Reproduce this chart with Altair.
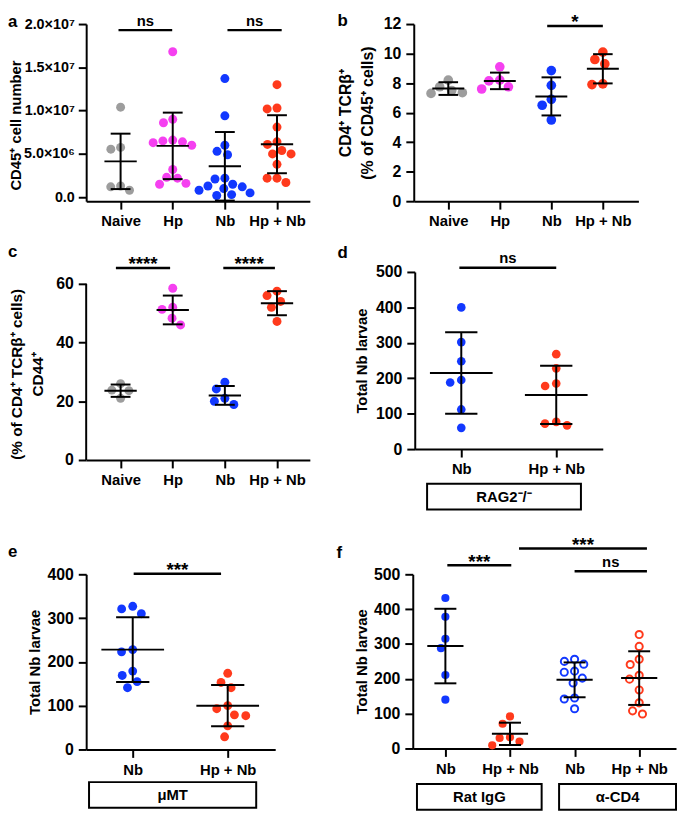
import json
import altair as alt
import pandas as pd

FONT = "Liberation Sans"
GRAY, PINK, BLUE, RED = "#9d9d9d", "#f540f0", "#1238ff", "#ff3a1c"

# ---------------- values ----------------
# panel a (CD45+ cell number, in units of 10^6)
A_CATS = ["Naive", "Hp", "Nb", "Hp + Nb"]
A_NAIVE = [10.4, 5.75, 5.55, 1.3, 1.2, 0.8]
A_HP = [16.8, 9.0, 8.6, 6.6, 6.5, 6.4, 6.3, 6.0, 3.2, 2.3, 2.2, 1.6, 1.5]
A_NB = [13.7, 9.4, 6.0, 5.3, 4.9, 2.2, 2.1, 1.5, 1.3, 1.2, 1.0, 0.8, 0.5, 0.3, 0.2]
A_HPNB = [13.0, 10.3, 10.2, 8.1, 6.4, 6.1, 5.4, 5.0, 5.0, 3.8, 2.2, 2.2, 1.7]
A_MEAN = [4.14, 5.93, 3.57, 6.12]
A_SD = [3.2, 3.84, 3.96, 3.35]
A_YTICKS = [0, 5, 10, 15, 20]
A_YLABELS = ["0.0", "5.0×10⁶", "1.0×10⁷", "1.5×10⁷", "2.0×10⁷"]
A_SIG = ["ns", "ns"]
A_SIG_FROM = [-0.04, 2.05]
A_SIG_TO = [0.99, 3.09]
A_SIG_Y = [19.3, 19.3]

# panel b
B_NAIVE = [8.2, 7.75, 7.5, 7.35, 7.3]
B_HP = [9.1, 8.2, 8.15, 7.75, 7.6]
B_NB = [8.85, 7.85, 6.9, 6.5, 5.5]
B_HPNB = [10.1, 9.6, 9.3, 7.95, 7.9]
B_MEAN = [7.63, 8.15, 7.1, 8.97]
B_SD = [0.43, 0.56, 1.29, 0.99]
B_YTICKS = [0, 2, 4, 6, 8, 10, 12]
B_SIG = ["*"]
B_SIG_FROM = [1.92]
B_SIG_TO = [3.0]
B_SIG_Y = [11.87]

# panel c
C_NAIVE = [26.0, 23.8, 23.6, 21.0]
C_HP = [58.5, 52.0, 51.3, 48.3, 46.0]
C_NB = [26.5, 24.2, 21.0, 20.0, 18.9]
C_HPNB = [57.5, 56.0, 54.0, 52.0, 47.2]
C_MEAN = [23.6, 51.1, 22.0, 53.4]
C_SD = [2.1, 4.9, 3.2, 4.1]
C_YTICKS = [0, 20, 40, 60]
C_SIG = ["****", "****"]
C_SIG_FROM = [-0.09, 1.97]
C_SIG_TO = [0.95, 2.96]
C_SIG_Y = [65.4, 65.4]

# panel d
D_CATS = ["Nb", "Hp + Nb"]
D_NB = [400, 302, 248, 195, 188, 112, 60]
D_HPNB = [268, 228, 185, 178, 77, 72, 67]
D_MEAN = [215, 153]
D_SD = [115, 82]
D_SIG = ["ns"]
D_SIG_FROM = [-0.02]
D_SIG_TO = [1.0]
D_SIG_Y = [512]
D_BOX = ["RAG2⁻/⁻"]
D_BOX_FROM = [-0.36]
D_BOX_TO = [1.26]

# panel e
E_NB = [327, 321, 310, 228, 223, 179, 169, 155, 141]
E_HPNB = [174, 153, 141, 100, 93, 79, 77, 54, 29]
E_MEAN = [228, 100]
E_SD = [74, 47]
E_SIG = ["***"]
E_SIG_FROM = [0.01]
E_SIG_TO = [0.93]
E_SIG_Y = [401.5]
E_BOX = ["μMT"]
E_BOX_FROM = [-0.46]
E_BOX_TO = [1.30]

# panel f
F_CATS = ["Nb", "Hp + Nb", "Nb", "Hp + Nb"]
F_IGG_NB = [432, 378, 315, 288, 211, 140]
F_IGG_HPNB = [92, 71, 32, 30, 20, 9]
F_CD4_NB = [256, 250, 242, 222, 219, 202, 188, 145, 142, 114]
F_CD4_HPNB = [327, 293, 256, 241, 210, 199, 168, 131, 108, 99]
F_MEAN = [294, 42, 197, 202]
F_SD = [107, 32, 50, 77]
F_SIG = ["***", "***", "ns"]
F_SIG_FROM = [0.03, 1.14, 2.0]
F_SIG_TO = [1.02, 3.12, 3.12]
F_SIG_Y = [526, 574, 509]
F_BOX = ["Rat IgG", "α-CD4"]
F_BOX_FROM = [-0.44, 1.76]
F_BOX_TO = [1.49, 3.57]


def swarm(values, px_per_y, diam):
    """Deterministic beeswarm: horizontal pixel offsets so dots don't overlap."""
    order = sorted(range(len(values)), key=lambda i: -values[i])
    placed, offs = [], [0.0] * len(values)
    for i in order:
        y = values[i] * px_per_y
        forb = []
        for yj, xj in placed:
            dy = abs(y - yj)
            if dy < diam:
                h = (diam * diam - dy * dy) ** 0.5
                forb.append((xj - h, xj + h))
        cands = sorted({0.0, *[e for iv in forb for e in iv]},
                       key=lambda c: (round(abs(c), 6), c))
        for c in cands:
            if all(not (lo + 1e-6 < c < hi - 1e-6) for lo, hi in forb):
                offs[i] = c
                break
        placed.append((y, offs[i]))
    return offs


def panel(p):
    W, H = p["width"], p["height"]
    x0, x1 = p["xdomain"]
    y0, y1 = p["ydomain"]
    pxx, pxy = W / (x1 - x0), H / (y1 - y0)
    sx = alt.Scale(domain=[x0, x1], nice=False, zero=False)
    sy = alt.Scale(domain=[y0, y1], nice=False, zero=False)

    rows = []
    for gi, (vals, col, fil) in enumerate(zip(p["series"], p["colors"], p["filled"])):
        offs = swarm(vals, pxy, p["collide"])
        for v, o in zip(vals, offs):
            rows.append({"x": gi + o / pxx, "y": v, "c": col, "f": fil})
    pts = pd.DataFrame(rows)

    cats = p["cats"]
    xaxis = alt.Axis(values=list(range(len(cats))),
                     labelExpr=json.dumps(cats, ensure_ascii=False) + "[datum.value]",
                     title=None, grid=False, domainWidth=2, domainColor="black",
                     tickWidth=2, tickSize=8, tickColor="black", labelFontSize=15,
                     labelFontWeight="bold", labelColor="black", labelPadding=5,
                     labelFlush=False, labelOverlap=False, labelBound=False, labelFont=FONT)
    yargs = dict(values=p["yticks"], title=p["ytitle"], grid=False,
                 domain=p.get("ydomline") is None, domainWidth=2, domainColor="black",
                 tickWidth=2, tickSize=8, tickColor="black", labelFontSize=p.get("ylsize", 16),
                 labelFontWeight="bold", labelColor="black", labelPadding=p.get("ylpad", 5),
                 labelFont=FONT, labelOverlap=False, labelFlush=False,
                 titleX=p["ytx"], titleY=p["yty"], titleAngle=270, titleBaseline="top",
                 titleAlign="center", titleFontSize=p["ytsize"], titleFontWeight="bold",
                 titleColor="black", titleFont=FONT, titleLineHeight=p.get("ytlh", 20))
    if p.get("ylabels"):
        yargs["labelExpr"] = (json.dumps(p["ylabels"], ensure_ascii=False)
                              + "[indexof(" + json.dumps(p["yticks"]) + ", datum.value)]")
    yaxis = alt.Axis(**yargs)

    def X(f):
        return alt.X(f, scale=sx, axis=xaxis)

    def Y(f):
        return alt.Y(f, scale=sy, axis=yaxis)

    layers = []
    filled = pts[pts.f]
    layers.append(alt.Chart(filled).mark_circle(size=p["size"], opacity=1).encode(
        x=X("x:Q"), y=Y("y:Q"), color=alt.Color("c:N", scale=None)))
    opened = pts[~pts.f]
    if len(opened):
        layers.append(alt.Chart(opened).mark_point(shape="circle", filled=False, strokeWidth=2,
                                                    size=p["osize"], opacity=1).encode(
            x=X("x:Q"), y=Y("y:Q"), color=alt.Color("c:N", scale=None)))

    if p.get("ydomline") is not None:
        dl = pd.DataFrame({"x": [x0], "y": [p["ydomline"][0]], "yb": [p["ydomline"][1]]})
        layers.append(alt.Chart(dl).mark_rule(strokeWidth=2, color="black").encode(
            x=X("x:Q"), y=Y("y:Q"), y2="yb:Q"))

    # mean +/- SD
    n = len(p["means"])
    vr = pd.DataFrame({"x": list(range(n)),
                       "y": [m - s for m, s in zip(p["means"], p["sds"])],
                       "hi": [m + s for m, s in zip(p["means"], p["sds"])]})
    hr_rows = []
    for i, (m, s) in enumerate(zip(p["means"], p["sds"])):
        hr_rows.append({"x": i - p["mhw"], "x2": i + p["mhw"], "y": m})
        hr_rows.append({"x": i - p["chw"], "x2": i + p["chw"], "y": m - s})
        hr_rows.append({"x": i - p["chw"], "x2": i + p["chw"], "y": m + s})
    hr = pd.DataFrame(hr_rows)
    layers.append(alt.Chart(vr).mark_rule(strokeWidth=2, color="black").encode(
        x=X("x:Q"), y=Y("y:Q"), y2="hi:Q"))
    layers.append(alt.Chart(hr).mark_rule(strokeWidth=2, color="black").encode(
        x=X("x:Q"), x2="x2:Q", y=Y("y:Q")))

    # significance brackets
    sg = pd.DataFrame({"lab": p["sig"], "a": p["sig_from"], "b": p["sig_to"], "y": p["sig_y"]})
    sg["x"] = sg.a
    sg["m"] = (sg.a + sg.b) / 2
    layers.append(alt.Chart(sg).mark_rule(strokeWidth=2.5, color="black").encode(
        x=X("x:Q"), x2="b:Q", y=Y("y:Q")))
    sg2 = sg.copy()
    sg2["x"] = sg2.m
    stars = sg2[sg2.lab.str.startswith("*")]
    words = sg2[~sg2.lab.str.startswith("*")]
    if len(stars):
        layers.append(alt.Chart(stars).mark_text(fontSize=19, fontWeight="bold", font=FONT,
                                                 baseline="alphabetic", dy=2.5, color="black").encode(
            x=X("x:Q"), y=Y("y:Q"), text="lab:N"))
    if len(words):
        layers.append(alt.Chart(words).mark_text(fontSize=15, fontWeight="bold", font=FONT,
                                                 baseline="alphabetic", dy=-4.5, color="black").encode(
            x=X("x:Q"), y=Y("y:Q"), text="lab:N"))

    # strain / treatment boxes under the axis
    if p.get("box"):
        bx = pd.DataFrame({"lab": p["box"], "x": p["box_from"], "b": p["box_to"]})
        bx["m"] = (bx.x + bx.b) / 2
        t0 = p["box_top"]
        layers.append(alt.Chart(bx).mark_rect(fill="white", stroke="black", strokeWidth=2).encode(
            x=X("x:Q"), x2="b:Q", y=alt.value(H + t0), y2=alt.value(H + t0 + 26)))
        bt = bx.copy()
        bt["x"] = bt.m
        layers.append(alt.Chart(bt).mark_text(fontSize=15, fontWeight="bold", font=FONT,
                                              baseline="middle", color="black").encode(
            x=X("x:Q"), y=alt.value(H + t0 + 13.5), text="lab:N"))

    title = alt.TitleParams(text=p["letter"], anchor="start", frame="group", offset=0,
                            dx=p["tdx"], dy=p["tdy"], fontSize=17, fontWeight="bold",
                            font=FONT, color="black", baseline="alphabetic")
    return alt.layer(*layers).properties(width=W, height=H, title=title)


pa = panel(dict(letter="a", tdx=-79, tdy=30, cats=A_CATS,
                series=[A_NAIVE, A_HP, A_NB, A_HPNB], colors=[GRAY, PINK, BLUE, RED],
                filled=[True] * 4, means=A_MEAN, sds=A_SD, width=226, height=179,
                xdomain=[-0.66, 3.63], ydomain=[-0.46, 20], yticks=A_YTICKS, ylabels=A_YLABELS,
                ylsize=14.5, ylpad=4, ytitle="CD45⁺ cell number", ytx=-78.5, yty=102, ytsize=15,
                sig=A_SIG, sig_from=A_SIG_FROM, sig_to=A_SIG_TO, sig_y=A_SIG_Y,
                size=82, collide=10, mhw=0.31, chw=0.19))
pb = panel(dict(letter="b", tdx=-77, tdy=30, cats=A_CATS,
                series=[B_NAIVE, B_HP, B_NB, B_HPNB], colors=[GRAY, PINK, BLUE, RED],
                filled=[True] * 4, means=B_MEAN, sds=B_SD, width=227, height=179,
                xdomain=[-0.67, 3.69], ydomain=[0, 12], yticks=B_YTICKS,
                ytitle=["CD4⁺ TCRβ⁺", "(% of CD45⁺ cells)"], ytx=-77, yty=89.5, ytsize=16,
                ytlh=22, sig=B_SIG, sig_from=B_SIG_FROM, sig_to=B_SIG_TO, sig_y=B_SIG_Y,
                size=95, collide=11, mhw=0.31, chw=0.19))
pc = panel(dict(letter="c", tdx=-79, tdy=18, cats=A_CATS,
                series=[C_NAIVE, C_HP, C_NB, C_HPNB], colors=[GRAY, PINK, BLUE, RED],
                filled=[True] * 4, means=C_MEAN, sds=C_SD, width=226, height=190,
                xdomain=[-0.66, 3.63], ydomain=[0, 64.04], yticks=C_YTICKS, ydomline=[0, 60],
                ytitle=["(% of CD4⁺ TCRβ⁺ cells)", "CD44⁺"], ytx=-77, yty=103, ytsize=15.5,
                ytlh=21, sig=C_SIG, sig_from=C_SIG_FROM, sig_to=C_SIG_TO, sig_y=C_SIG_Y,
                size=82, collide=11, mhw=0.31, chw=0.19))
pd_ = panel(dict(letter="d", tdx=-78, tdy=24, cats=D_CATS,
                 series=[D_NB, D_HPNB], colors=[BLUE, RED], filled=[True] * 2,
                 means=D_MEAN, sds=D_SD, width=190, height=179,
                 xdomain=[-0.49, 1.49], ydomain=[0, 500], yticks=[0, 100, 200, 300, 400, 500],
                 ytitle="Total Nb larvae", ytx=-61, yty=89.5, ytsize=15,
                 sig=D_SIG, sig_from=D_SIG_FROM, sig_to=D_SIG_TO, sig_y=D_SIG_Y,
                 box=D_BOX, box_from=D_BOX_FROM, box_to=D_BOX_TO, box_top=35,
                 size=76, collide=11.5, mhw=0.33, chw=0.17))
pe = panel(dict(letter="e", tdx=-79, tdy=12.5, cats=D_CATS,
                series=[E_NB, E_HPNB], colors=[BLUE, RED], filled=[True] * 2,
                means=E_MEAN, sds=E_SD, width=191, height=177,
                xdomain=[-0.49, 1.5], ydomain=[0, 400], yticks=[0, 100, 200, 300, 400],
                ytitle="Total Nb larvae", ytx=-59, yty=88.5, ytsize=15,
                sig=E_SIG, sig_from=E_SIG_FROM, sig_to=E_SIG_TO, sig_y=E_SIG_Y,
                box=E_BOX, box_from=E_BOX_FROM, box_to=E_BOX_TO, box_top=33,
                size=80, collide=11.5, mhw=0.33, chw=0.175))
pf = panel(dict(letter="f", tdx=-77, tdy=39, cats=F_CATS,
                series=[F_IGG_NB, F_IGG_HPNB, F_CD4_NB, F_CD4_HPNB],
                colors=[BLUE, RED, BLUE, RED], filled=[True, True, False, False],
                means=F_MEAN, sds=F_SD, width=266, height=176,
                xdomain=[-0.505, 3.57], ydomain=[0, 500], yticks=[0, 100, 200, 300, 400, 500],
                ytitle="Total Nb larvae", ytx=-59, yty=88, ytsize=15,
                sig=F_SIG, sig_from=F_SIG_FROM, sig_to=F_SIG_TO, sig_y=F_SIG_Y,
                box=F_BOX, box_from=F_BOX_FROM, box_to=F_BOX_TO, box_top=36,
                size=68, osize=52, collide=10.5, mhw=0.28, chw=0.17))

row1 = alt.hconcat(pa, pb, spacing=105, bounds="flush")
row2 = alt.hconcat(pc, pd_, spacing=106, bounds="flush")
row3 = alt.hconcat(pe, pf, spacing=139, bounds="flush")

top = alt.vconcat(row1, row2, spacing=13.5)
chart = (alt.vconcat(top, row3, spacing=25)
         .properties(padding=0, background="white")
         .configure(font=FONT)
         .configure_view(stroke=None))

chart.save("out.html", embed_options={"renderer": "svg", "actions": False})
